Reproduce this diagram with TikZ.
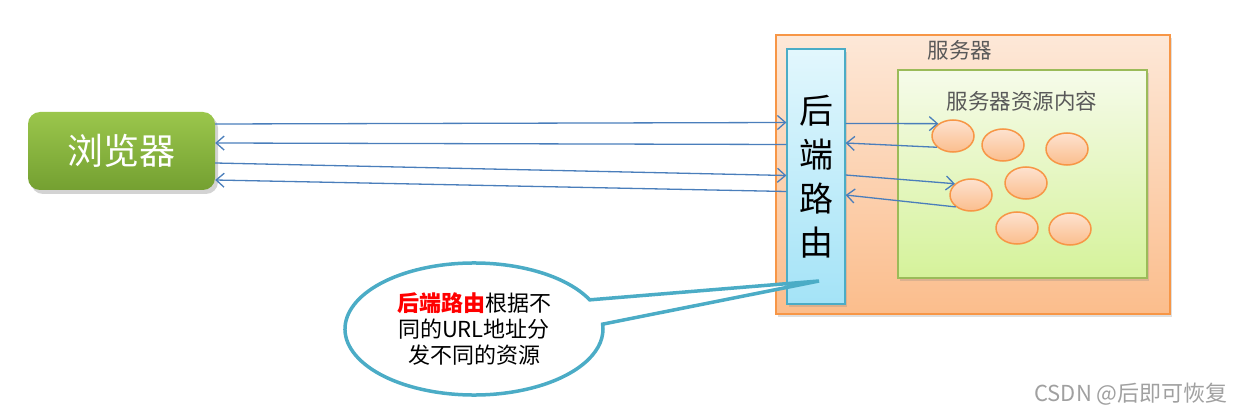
\documentclass[tikz,border=0pt]{standalone}
\usepackage{fontspec}
\setmainfont{Noto Sans CJK SC}
\usepackage{tikz}
\usetikzlibrary{arrows.meta, shapes.geometric, shapes.callouts, shadows}

\definecolor{linkblue}{HTML}{4A7EBB}
\definecolor{calloutblue}{HTML}{4BACC6}
\definecolor{labelgray}{HTML}{595959}
\definecolor{markgray}{HTML}{A0A0A0}
\definecolor{orangeline}{HTML}{F79646}
\definecolor{greenline}{HTML}{9BBB59}
\definecolor{clienttop}{HTML}{9BC64C}
\definecolor{clientbottom}{HTML}{74A031}
\definecolor{servertop}{HTML}{FDE8D8}
\definecolor{serverbottom}{HTML}{FBBD8C}
\definecolor{routertop}{HTML}{E2F7FD}
\definecolor{routerbottom}{HTML}{A4E3F7}
\definecolor{restop}{HTML}{F6FBEA}
\definecolor{resbottom}{HTML}{D5F29A}
\definecolor{itemtop}{HTML}{FDE2CF}
\definecolor{itembottom}{HTML}{FBBE8E}

\tikzset{
		box shadow/.style={drop shadow={opacity=0.25, shadow xshift=2pt, shadow yshift=-3pt}},
		client/.style={draw=none, rounded corners=12pt, top color=clienttop, bottom color=clientbottom,
			minimum width=187pt, minimum height=78pt, text=white, font=\fontsize{36}{40}\selectfont,
			drop shadow={opacity=0.35, shadow xshift=3pt, shadow yshift=-4pt}},
		serverbox/.style={draw=orangeline, line width=1.5pt, top color=servertop, bottom color=serverbottom,
			minimum width=394pt, minimum height=279pt, box shadow},
		routerbox/.style={draw=calloutblue, line width=1.2pt, top color=routertop, bottom color=routerbottom,
			minimum width=58pt, minimum height=255pt, inner sep=0pt, align=center,
			font=\fontsize{34}{44}\selectfont, box shadow},
		resbox/.style={draw=greenline, line width=1.2pt, top color=restop, bottom color=resbottom,
			minimum width=249pt, minimum height=208pt, box shadow},
		resource/.style={ellipse, draw=orangeline, line width=1.5pt, top color=itemtop, bottom color=itembottom,
			minimum width=42pt, minimum height=32pt, inner sep=0pt},
		boxlabel/.style={text=labelgray, font=\fontsize{21.5}{24}\selectfont},
		link/.style={->, draw=linkblue, line width=1.3pt},
		note/.style={ellipse callout, draw=calloutblue, line width=3.5pt, fill=white, callout pointer arc=22,
			minimum width=258pt, minimum height=132pt, inner sep=0pt, align=center,
			font=\fontsize{22}{26}\selectfont}
	}

\begin{document}
\begin{tikzpicture}[x=1pt, y=-1pt, >={Straight Barb[length=8pt, width=14pt]}]
		\useasboundingbox (0,0) rectangle (1242,414);

		\node[client]    (browser) at (121.5,151)  {浏览器};

		\node[serverbox] (server)  at (973,174.5)  {};
		\node[boxlabel]  (srvname) at (960,50)     {服务器};
		\node[routerbox] (router)  at (816,176.5)  {后\\端\\路\\由};
		\node[resbox]    (res)     at (1022.5,174) {};
		\node[boxlabel]  (resname) at (1022,101)   {服务器资源内容};

		\node[resource] (e1) at (953,136)  {};
		\node[resource] (e2) at (1003,145) {};
		\node[resource] (e3) at (1067,149) {};
		\node[resource] (e4) at (1026,183) {};
		\node[resource] (e5) at (971,195)  {};
		\node[resource] (e6) at (1017,228) {};
		\node[resource] (e7) at (1070,229) {};

		% browser <-> router
		\draw[link] ([yshift=27]browser.east)  -- ([yshift=54]router.west);
		\draw[link] ([yshift=32]router.west)   -- ([yshift=8]browser.east);
		\draw[link] ([yshift=-12]browser.east) -- ([yshift=1]router.west);
		\draw[link] ([yshift=-15]router.west)  -- ([yshift=-29]browser.east);

		% router <-> resources
		\draw[link] ([yshift=53]router.east) -- (e1.140);
		\draw[link] (e1.215) -- ([yshift=33.5]router.east);
		\draw[link] ([yshift=1.5]router.east) -- (e5.145);
		\draw[link] (e5.218) -- ([yshift=-18.5]router.east);

		\coordinate (tip) at (819,281);
		\node[note, callout absolute pointer=(tip)] (hint) at (474,329)
			{{\bfseries\color{red}后端路由}根据不\\同的URL地址分\\发不同的资源};

		\node[text=markgray, font=\fontsize{22}{24}\selectfont] (mark) at (1131,394) {CSDN @后即可恢复};
	\end{tikzpicture}
\end{document}
